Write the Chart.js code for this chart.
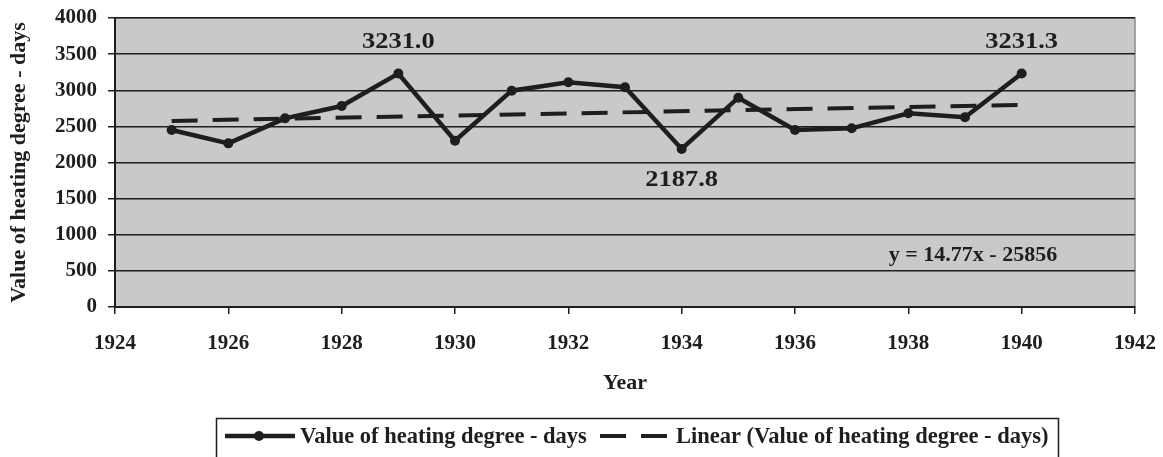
<!DOCTYPE html>
<html lang="en">
<head>
<meta charset="UTF-8" />
<title>Heating degree - days</title>
<script src="https://cdn.jsdelivr.net/npm/chart.js"></script>
<style>
  body { margin: 0; background: #fff; }
</style>
</head>
<body>
<canvas id="hddChart" width="1163" height="457"></canvas>
<script>
  // values
  const years = [1925, 1926, 1927, 1928, 1929, 1930, 1931, 1932, 1933, 1934, 1935, 1936, 1937, 1938, 1939, 1940];
  const hdd = [2450, 2265, 2611, 2782, 3231.0, 2302, 2994, 3110, 3041, 2187.8, 2897, 2450, 2473, 2681, 2626, 3231.3];
  const trendYears = [1925, 1940];
  const trendValues = [2576, 2798];
  const pointLabels = [
    { year: 1929, text: '3231.0', dy: -31 },
    { year: 1934, text: '2187.8', dy: 31 },
    { year: 1940, text: '3231.3', dy: -31 }
  ];
  const equation = 'y = 14.77x - 25856';
  const seriesName = 'Value of heating degree - days';
  const trendName = 'Linear (Value of heating degree - days)';

  const SERIF = "'Liberation Serif', 'Times New Roman', serif";
  const INK = '#1e1e1e';

  const plotBg = {
    id: 'plotBg',
    beforeDraw(chart) {
      const { ctx, chartArea: a } = chart;
      ctx.save();
      ctx.fillStyle = '#c8c9cb';
      ctx.fillRect(a.left, a.top, a.right - a.left, a.bottom - a.top);
      ctx.strokeStyle = '#8a8a8a';
      ctx.lineWidth = 1.5;
      ctx.beginPath();
      ctx.moveTo(a.left, a.top);
      ctx.lineTo(a.right, a.top);
      ctx.lineTo(a.right, a.bottom);
      ctx.stroke();
      ctx.restore();
    }
  };

  const notes = {
    id: 'notes',
    afterDatasetsDraw(chart) {
      const { ctx, scales: { x, y } } = chart;
      ctx.save();
      ctx.fillStyle = INK;
      ctx.textAlign = 'center';
      ctx.textBaseline = 'middle';
      ctx.font = 'bold 23px ' + SERIF;
      pointLabels.forEach(p => {
        const v = hdd[years.indexOf(p.year)];
        const px = x.getPixelForValue(p.year);
        const py = y.getPixelForValue(v) + p.dy;
        ctx.save();
        ctx.translate(px, py);
        ctx.scale(1.15, 1);
        ctx.fillText(p.text, 0, 0);
        ctx.restore();
      });
      ctx.font = 'bold 22px ' + SERIF;
      ctx.fillText(equation, 973, 255);
      ctx.restore();
    }
  };

  const boxLegend = {
    id: 'boxLegend',
    afterDraw(chart) {
      const { ctx } = chart;
      ctx.save();
      ctx.strokeStyle = INK;
      ctx.lineWidth = 1.5;
      ctx.strokeRect(216.5, 418.5, 842, 60);

      const cy = 436;
      ctx.lineWidth = 4.5;
      ctx.beginPath();
      ctx.moveTo(225, cy);
      ctx.lineTo(295, cy);
      ctx.stroke();
      ctx.fillStyle = INK;
      ctx.beginPath();
      ctx.arc(259, cy, 5, 0, Math.PI * 2);
      ctx.fill();

      ctx.lineWidth = 4;
      ctx.beginPath();
      ctx.moveTo(600, cy); ctx.lineTo(626, cy);
      ctx.moveTo(641, cy); ctx.lineTo(667, cy);
      ctx.stroke();

      ctx.font = 'bold 22.5px ' + SERIF;
      ctx.textBaseline = 'middle';
      ctx.textAlign = 'left';
      ctx.fillText(seriesName, 300, cy + 1);
      ctx.fillText(trendName, 676, cy + 1);
      ctx.restore();
    }
  };

  const tickFont = { family: SERIF, size: 21, weight: 'bold' };
  const titleFont = { family: SERIF, size: 22, weight: 'bold' };

  new Chart(document.getElementById('hddChart'), {
    type: 'line',
    data: {
      datasets: [{
        label: seriesName,
        data: years.map((yr, i) => ({ x: yr, y: hdd[i] })),
        borderColor: INK,
        backgroundColor: INK,
        borderWidth: 4.5,
        pointRadius: 5,
        pointBackgroundColor: INK,
        pointBorderWidth: 0,
        tension: 0
      }, {
        label: trendName,
        data: trendYears.map((yr, i) => ({ x: yr, y: trendValues[i] })),
        borderColor: INK,
        borderWidth: 4,
        borderDash: [26, 15],
        pointRadius: 0,
        tension: 0
      }]
    },
    options: {
      responsive: false,
      devicePixelRatio: 1,
      animation: false,
      layout: { padding: { left: 0, top: 18, right: 28, bottom: 60 } },
      plugins: {
        legend: { display: false },
        tooltip: { enabled: false }
      },
      scales: {
        x: {
          type: 'linear',
          min: 1924,
          max: 1942,
          afterFit: s => { s.height = 90; s.paddingLeft = 0; s.paddingRight = 0; },
          ticks: {
            stepSize: 2,
            color: INK,
            font: tickFont,
            padding: 17,
            callback: v => String(v)
          },
          grid: { drawOnChartArea: false, tickLength: 7, color: INK, lineWidth: 1.5 },
          border: { color: INK, width: 2 },
          title: {
            display: true,
            text: 'Year',
            color: INK,
            font: titleFont,
            padding: { top: 0, bottom: 0 }
          }
        },
        y: {
          min: 0,
          max: 4000,
          afterFit: s => { s.width = 115; s.paddingTop = 0; s.paddingBottom = 0; },
          ticks: {
            stepSize: 500,
            color: INK,
            font: tickFont,
            padding: 11,
            callback: v => String(v)
          },
          grid: { color: INK, lineWidth: 1.5, tickLength: 7 },
          border: { color: INK, width: 2 },
          title: {
            display: true,
            text: 'Value of heating degree - days',
            color: INK,
            font: titleFont,
            padding: { top: 6, bottom: 0 }
          }
        }
      }
    },
    plugins: [plotBg, notes, boxLegend]
  });
</script>
</body>
</html>
